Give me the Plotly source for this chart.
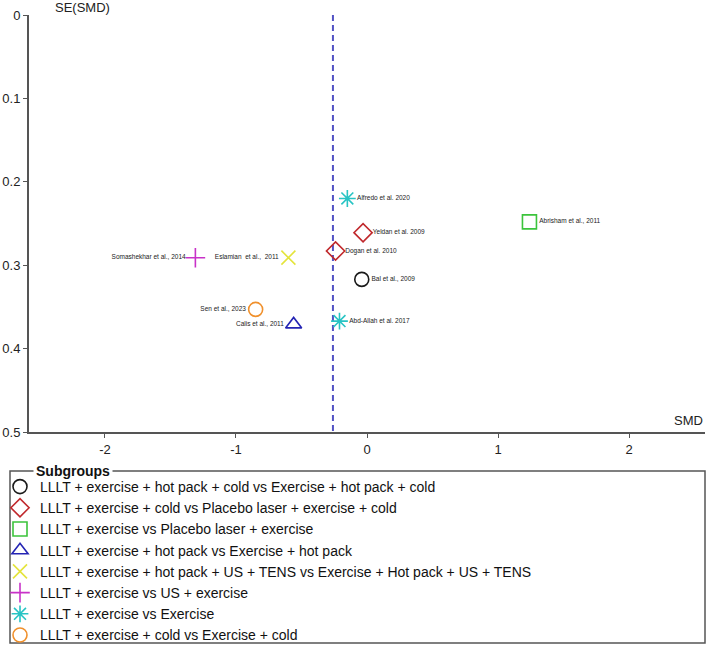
import plotly.graph_objects as go

# ---- data ----
groups = [
    "LLLT + exercise + hot pack + cold vs Exercise + hot pack + cold",
    "LLLT + exercise + cold vs Placebo laser + exercise + cold",
    "LLLT + exercise vs Placebo laser + exercise",
    "LLLT + exercise + hot pack vs Exercise + hot pack",
    "LLLT + exercise + hot pack + US + TENS vs Exercise + Hot pack + US + TENS",
    "LLLT + exercise vs US + exercise",
    "LLLT + exercise vs Exercise",
    "LLLT + exercise + cold vs Exercise + cold",
]
group_symbols = ["circle-open", "diamond-open", "square-open", "triangle-up-open",
                 "x-thin-open", "cross-thin-open", "asterisk-open", "circle-open"]
group_colors = ["#1a1a1a", "#c0282c", "#3cc43c", "#2424b4",
                "#e4e43c", "#c832c8", "#28c4c4", "#f0902c"]

studies = ["Bal et al., 2009", "Yeldan et al. 2009", "Dogan et al. 2010",
           "Abrisham et al., 2011", "Calis et al., 2011", "Eslamian  et al.,  2011",
           "Somashekhar et al., 2014", "Alfredo et al. 2020", "Abd-Allah et al. 2017",
           "Sen et al., 2023"]
smd = [-0.04, -0.03, -0.24, 1.24, -0.56, -0.60, -1.31, -0.15, -0.21, -0.85]
se_smd = [0.317, 0.261, 0.283, 0.248, 0.371, 0.291, 0.291, 0.220, 0.367, 0.353]
study_group = [0, 1, 1, 2, 3, 4, 5, 6, 6, 7]
label_side = ["right", "right", "right", "right", "left", "left",
              "left", "right", "right", "left"]

pooled_smd = -0.26
se_range = [0.5, 0.0]
smd_range = [-2.58, 2.58]

x_ticks = [-2, -1, 0, 1, 2]
x_ticktext = ["-2", "-1", "0", "1", "2"]
y_ticks = [0, 0.1, 0.2, 0.3, 0.4, 0.5]
y_ticktext = ["0", "0.1", "0.2", "0.3", "0.4", "0.5"]

FONT = "Arial, 'Liberation Sans', sans-serif"

W, H = 709, 646
ML, MR, MT, MB = 29, 4, 15, 214
PW, PH = W - ML - MR, H - MT - MB


def px_x(p):
    return (p - ML) / PW


def px_y(p):
    return (H - MB - p) / PH


fig = go.Figure()

# pooled estimate line
fig.add_trace(go.Scatter(
    x=[pooled_smd, pooled_smd], y=[min(se_range), max(se_range)],
    mode="lines", line=dict(color="#5252c4", width=2, dash="6px,4px"),
    showlegend=False, hoverinfo="skip"))

for g, name in enumerate(groups):
    idx = [i for i, sg in enumerate(study_group) if sg == g]
    fig.add_trace(go.Scatter(
        x=[smd[i] for i in idx],
        y=[se_smd[i] for i in idx],
        text=[studies[i] for i in idx],
        textposition=["middle " + label_side[i] for i in idx],
        mode="markers+text",
        name=name,
        marker=dict(symbol=group_symbols[g], size=14, color=group_colors[g],
                    line=dict(width=1.6, color=group_colors[g])),
        textfont=dict(size=6.5, color="#222222", family=FONT),
        cliponaxis=False,
    ))

fig.update_layout(
    width=W, height=H,
    margin=dict(l=ML, r=MR, t=MT, b=MB, autoexpand=False),
    paper_bgcolor="white", plot_bgcolor="white",
    font=dict(family=FONT, size=13, color="#222222"),
    showlegend=True,
    legend=dict(
        x=px_x(0), y=px_y(471), xanchor="left", yanchor="top",
        borderwidth=0, bgcolor="rgba(0,0,0,0)",
        font=dict(size=14, family=FONT, color="#111"),
        tracegroupgap=0, itemwidth=30,
    ),
    xaxis=dict(range=smd_range, tickvals=x_ticks, ticktext=x_ticktext,
               showline=True, linecolor="#555555", linewidth=2,
               ticks="outside", ticklen=4, tickcolor="#555555", tickwidth=1,
               showgrid=False, zeroline=False, tickfont=dict(size=13)),
    yaxis=dict(range=se_range, tickvals=y_ticks, ticktext=y_ticktext,
               showline=True, linecolor="#555555", linewidth=2,
               ticks="outside", ticklen=4, tickcolor="#555555", tickwidth=1,
               showgrid=False, zeroline=False, tickfont=dict(size=13)),
)

# legend frame (fieldset style)
fig.add_shape(type="rect", xref="paper", yref="paper",
              x0=px_x(10), x1=px_x(705), y0=px_y(643), y1=px_y(471),
              line=dict(color="#555555", width=1.5), fillcolor="rgba(0,0,0,0)",
              layer="below")
fig.add_annotation(text="<b>Subgroups</b>", xref="paper", yref="paper",
                   x=px_x(33), y=px_y(471), xanchor="left", yanchor="middle",
                   showarrow=False, bgcolor="white", borderpad=2,
                   font=dict(size=14, family=FONT, color="#111"))

fig.add_annotation(text="SE(SMD)", xref="paper", yref="paper", x=px_x(53), y=1.0,
                   xanchor="left", yanchor="bottom", showarrow=False,
                   font=dict(size=13, family=FONT), yshift=-2)
fig.add_annotation(text="SMD", xref="paper", yref="paper", x=1.0, y=0.0,
                   xanchor="right", yanchor="bottom", showarrow=False,
                   font=dict(size=13, family=FONT), yshift=2)

fig.write_html("out.html")
